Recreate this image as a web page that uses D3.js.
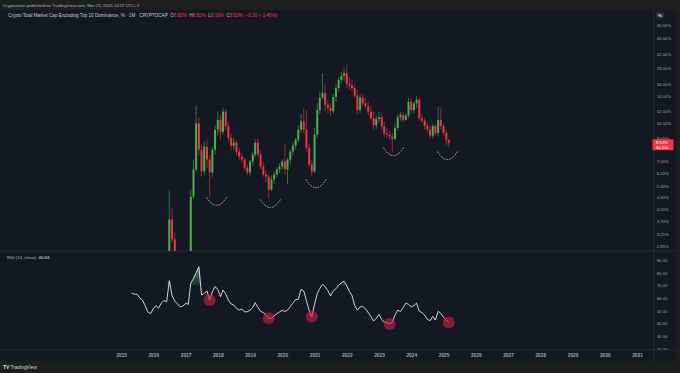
<!DOCTYPE html>
<html><head><meta charset="utf-8">
<script src="https://cdn.jsdelivr.net/npm/d3@7"></script>
<style>
html,body{margin:0;padding:0;background:#1e1e1e;overflow:hidden}
svg{display:block}
text{font-family:"Liberation Sans",Arial,sans-serif;white-space:pre}
</style>
</head><body>
<svg id="c" width="680" height="373"></svg>
<script>
// ---------- DATA (monthly candles, % dominance) ----------
const months = [
"2016-01","2016-02","2016-03","2016-04","2016-05","2016-06","2016-07","2016-08","2016-09","2016-10","2016-11","2016-12",
"2017-01","2017-02","2017-03","2017-04","2017-05","2017-06","2017-07","2017-08","2017-09","2017-10","2017-11","2017-12",
"2018-01","2018-02","2018-03","2018-04","2018-05","2018-06","2018-07","2018-08","2018-09","2018-10","2018-11","2018-12",
"2019-01","2019-02","2019-03","2019-04","2019-05","2019-06","2019-07","2019-08","2019-09","2019-10","2019-11","2019-12",
"2020-01","2020-02","2020-03","2020-04","2020-05","2020-06","2020-07","2020-08","2020-09","2020-10","2020-11","2020-12",
"2021-01","2021-02","2021-03","2021-04","2021-05","2021-06","2021-07","2021-08","2021-09","2021-10","2021-11","2021-12",
"2022-01","2022-02","2022-03","2022-04","2022-05","2022-06","2022-07","2022-08","2022-09","2022-10","2022-11","2022-12",
"2023-01","2023-02","2023-03","2023-04","2023-05","2023-06","2023-07","2023-08","2023-09","2023-10","2023-11","2023-12",
"2024-01","2024-02","2024-03","2024-04","2024-05","2024-06","2024-07","2024-08","2024-09","2024-10","2024-11","2024-12",
"2025-01","2025-02","2025-03"];
const openVals = [
2.30,2.20,2.30,2.50,2.40,2.30,2.55,3.78,3.06,2.60,2.30,2.20,
2.15,2.35,2.60,4.82,6.43,10.50,7.94,6.30,8.20,7.15,6.23,7.94,
9.82,10.90,9.60,11.90,10.20,9.00,8.29,8.56,7.78,7.38,7.15,6.57,
6.23,7.00,7.54,8.56,7.54,6.64,6.10,5.95,5.20,5.78,6.10,6.43,
6.64,7.00,6.43,7.15,7.78,8.29,8.83,9.82,10.70,9.82,8.11,6.78,
6.30,9.32,12.10,13.80,14.50,12.80,12.40,12.00,13.90,15.30,16.70,17.40,
17.90,16.00,15.70,15.30,14.10,12.10,13.80,13.00,12.60,11.90,11.10,10.30,
11.00,11.20,10.20,9.42,9.32,9.13,8.92,10.00,11.20,11.50,10.90,11.40,
13.20,12.10,13.00,13.50,11.10,10.80,10.20,9.82,9.22,10.20,9.50,10.90,
10.20,9.50,8.82];
const highVals = [
2.50,2.40,2.70,2.70,2.60,2.70,5.15,4.28,3.29,2.70,2.45,2.40,
2.45,2.70,5.20,7.15,12.70,11.20,8.38,8.65,8.83,7.46,8.20,10.30,
11.90,11.50,12.40,12.20,10.70,9.42,9.00,8.74,8.11,7.62,7.30,6.78,
7.15,7.78,8.83,8.92,7.86,6.92,6.37,6.10,6.04,6.30,6.57,6.85,
7.15,8.38,7.30,7.94,8.56,9.00,10.30,11.60,12.40,12.10,8.47,7.15,
10.00,13.00,14.70,17.90,15.90,13.50,13.00,14.40,15.90,17.20,18.20,19.00,
19.60,17.20,16.70,16.00,15.00,14.30,14.40,13.80,13.30,12.60,11.90,11.40,
11.90,11.70,10.70,10.00,9.70,9.50,10.50,11.60,11.90,11.90,11.70,13.80,
13.70,13.20,14.10,13.80,11.60,11.10,10.60,10.30,10.50,10.40,12.50,12.40,
10.50,9.82,8.82];
const lowVals = [
2.10,2.10,2.20,2.30,2.20,2.20,2.45,2.96,2.50,2.20,2.10,2.00,
2.05,2.25,2.50,4.72,6.30,7.46,5.95,6.10,6.57,4.82,5.95,7.54,
9.22,8.83,9.32,9.82,8.65,7.94,7.94,7.46,7.07,6.92,6.37,6.04,
6.04,6.71,7.30,7.30,6.43,5.95,5.60,4.72,5.10,5.55,5.95,6.17,
6.43,6.10,5.49,6.78,7.46,7.94,8.56,9.50,9.42,7.78,6.57,5.98,
6.17,9.00,11.60,13.50,11.90,11.60,11.40,11.70,13.20,14.70,16.00,16.40,
15.30,15.00,14.70,13.80,11.50,11.70,12.50,12.30,11.50,10.80,9.82,9.90,
10.60,9.82,9.13,9.00,8.83,7.78,8.74,9.70,10.80,10.60,10.80,11.10,
11.70,11.70,12.40,10.80,10.50,9.82,9.50,8.92,9.00,9.22,9.22,9.82,
9.22,8.30,8.16];
const closeVals = [
2.20,2.30,2.50,2.40,2.30,2.55,3.78,3.06,2.60,2.30,2.20,2.15,
2.35,2.60,4.82,6.43,10.50,7.94,6.30,8.20,7.15,6.23,7.94,9.82,
10.90,9.60,11.90,10.20,9.00,8.29,8.56,7.78,7.38,7.15,6.57,6.23,
7.00,7.54,8.56,7.54,6.64,6.10,5.95,5.20,5.78,6.10,6.43,6.64,
7.00,6.43,7.15,7.78,8.29,8.83,9.82,10.70,9.82,8.11,6.78,6.30,
9.32,12.10,13.80,14.50,12.80,12.40,12.00,13.90,15.30,16.70,17.40,17.90,
16.00,15.70,15.30,14.10,12.10,13.80,13.00,12.60,11.90,11.10,10.30,11.00,
11.20,10.20,9.42,9.32,9.13,8.92,10.00,11.20,11.50,10.90,11.40,13.20,
12.10,13.00,13.50,11.10,10.80,10.20,9.82,9.22,10.20,9.50,10.90,10.20,
9.50,8.83,8.53];

// RSI(14, close)
const rsiMonths = [
"2015-05","2015-06","2015-07","2015-08","2015-09","2015-10","2015-11","2015-12",
"2016-01","2016-02","2016-03","2016-04","2016-05","2016-06","2016-07","2016-08","2016-09","2016-10","2016-11","2016-12",
"2017-01","2017-02","2017-03","2017-04","2017-05","2017-06","2017-07","2017-08","2017-09","2017-10","2017-11","2017-12",
"2018-01","2018-02","2018-03","2018-04","2018-05","2018-06","2018-07","2018-08","2018-09","2018-10","2018-11","2018-12",
"2019-01","2019-02","2019-03","2019-04","2019-05","2019-06","2019-07","2019-08","2019-09","2019-10","2019-11","2019-12",
"2020-01","2020-02","2020-03","2020-04","2020-05","2020-06","2020-07","2020-08","2020-09","2020-10","2020-11","2020-12",
"2021-01","2021-02","2021-03","2021-04","2021-05","2021-06","2021-07","2021-08","2021-09","2021-10","2021-11","2021-12",
"2022-01","2022-02","2022-03","2022-04","2022-05","2022-06","2022-07","2022-08","2022-09","2022-10","2022-11","2022-12",
"2023-01","2023-02","2023-03","2023-04","2023-05","2023-06","2023-07","2023-08","2023-09","2023-10","2023-11","2023-12",
"2024-01","2024-02","2024-03","2024-04","2024-05","2024-06","2024-07","2024-08","2024-09","2024-10","2024-11","2024-12",
"2025-01","2025-02","2025-03"];
const rsiVals = [
63.7,63.0,63.0,60.0,58.4,54.0,49.0,47.5,
51.5,54.0,52.0,56.0,58.0,57.0,73.7,62.0,57.6,55.5,53.0,53.5,
55.8,55.0,71.6,75.5,80.0,84.7,62.4,63.7,65.5,58.4,65.0,69.0,
66.8,61.0,66.3,63.2,58.4,55.3,54.5,51.8,50.5,51.3,49.0,49.2,
50.5,52.5,56.3,52.5,49.5,48.6,46.5,44.0,44.0,46.0,47.6,49.0,
50.2,49.4,50.4,53.2,56.0,58.8,59.0,66.8,65.5,58.0,50.0,45.3,
55.0,63.5,67.5,70.8,69.0,65.8,61.6,65.5,67.3,70.0,72.0,73.2,
69.5,65.0,62.0,54.0,50.5,53.0,53.3,51.5,48.5,45.5,41.8,44.0,
47.1,43.0,41.0,40.5,39.5,41.0,46.6,50.5,49.3,52.5,56.0,55.0,
53.0,54.0,56.0,49.6,48.5,46.5,43.3,42.1,45.5,42.6,49.5,47.9,
44.8,42.6,40.63];

// highlighted RSI lows (red circles)
const rsiHighlights = ["2017-10","2019-08","2020-12","2023-05","2025-03"];
// dashed "smile" annotations under price lows: anchor date + price level
const smileDates  = ["2017-12-18","2019-08-20","2021-01-18","2023-06-14","2025-02-15"];
const smileLevels = [4.78, 4.67, 5.78, 8.11, 7.78];

// axis tick labels
const priceTicks = [30,26,22,19,16,14,12,10.5,9,7,6.2,5.4,4.8,4.2,3.7,3.25,2.85];
const rsiTicks = [90,80,70,60,50,40,30,20];
const yearTicks = ["2015","2016","2017","2018","2019","2020","2021","2022","2023","2024","2025","2026","2027","2028","2029","2030","2031"];

// ---------- DRAW ----------
const W = 680, H = 373;
const BG = "#141823", FRAME = "#1e1e1e", SEP = "#2a2e39";
const GREEN = "#4caf50", RED = "#f23645", AXT = "#a3a6af";
const chartT = 10, chartB = 361, chartR = 676, axisX = 654, paneSep = 251, timeTop = 350;

const svg = d3.select("#c");
svg.append("rect").attr("width", W).attr("height", H).attr("fill", FRAME);
svg.append("rect").attr("x", 0).attr("y", chartT).attr("width", chartR).attr("height", chartB - chartT).attr("fill", BG);

const parseM = d3.utcParse("%Y-%m");
const parseD = d3.utcParse("%Y-%m-%d");
const x = d3.scaleUtc().domain([parseM("2015-01"), parseM("2031-01")]).range([121, 637]);
const yP = d3.scaleLog().domain([2.85, 30]).range([246, 24.7]);
const yR = d3.scaleLinear().domain([20, 90]).range([348.7, 260]);

const defs = svg.append("defs");
defs.append("clipPath").attr("id", "clipMain").append("rect").attr("x", 0).attr("y", chartT).attr("width", axisX).attr("height", paneSep - chartT);
defs.append("clipPath").attr("id", "clipRsi").append("rect").attr("x", 0).attr("y", paneSep).attr("width", axisX).attr("height", timeTop - paneSep);
defs.append("clipPath").attr("id", "clipRsiAxis").append("rect").attr("x", axisX).attr("y", paneSep).attr("width", chartR - axisX).attr("height", timeTop - paneSep);

// separators
svg.append("line").attr("x1", 0).attr("x2", chartR).attr("y1", paneSep).attr("y2", paneSep).attr("stroke", SEP).attr("stroke-width", 0.8);
svg.append("line").attr("x1", 0).attr("x2", chartR).attr("y1", timeTop).attr("y2", timeTop).attr("stroke", SEP).attr("stroke-width", 0.8);
svg.append("line").attr("x1", axisX).attr("x2", axisX).attr("y1", chartT).attr("y2", chartB).attr("stroke", SEP).attr("stroke-width", 0.8);

// candles
const candles = months.map((m, i) => ({d: parseM(m), o: openVals[i], h: highVals[i], l: lowVals[i], c: closeVals[i]}));
const step = x(parseM("2016-02")) - x(parseM("2016-01"));
const bw = step * 0.72;
const gMain = svg.append("g").attr("clip-path", "url(#clipMain)");
gMain.selectAll("line.wick").data(candles).join("line").attr("class", "wick")
  .attr("x1", d => x(d.d)).attr("x2", d => x(d.d))
  .attr("y1", d => yP(d.h)).attr("y2", d => yP(d.l))
  .attr("stroke", d => d.c >= d.o ? GREEN : RED).attr("stroke-width", 0.6);
gMain.selectAll("rect.body").data(candles).join("rect").attr("class", "body")
  .attr("x", d => x(d.d) - bw / 2).attr("width", bw)
  .attr("y", d => yP(Math.max(d.o, d.c)))
  .attr("height", d => Math.max(0.7, yP(Math.min(d.o, d.c)) - yP(Math.max(d.o, d.c))))
  .attr("fill", d => d.c >= d.o ? GREEN : RED);

// smile annotations
const smiles = smileDates.map((s, i) => ({d: parseD(s), v: smileLevels[i]}));
gMain.selectAll("path.smile").data(smiles).join("path").attr("class", "smile")
  .attr("d", d => {
    const cx = x(d.d), cy = yP(d.v), hw = 10, dp = 8;
    return `M${cx - hw},${cy} Q${cx},${cy + 2 * dp} ${cx + hw},${cy}`;
  })
  .attr("fill", "none").attr("stroke", "#e8e8e8").attr("stroke-width", 0.8).attr("stroke-dasharray", "1.4,1.1");

// price axis
const pAxis = svg.append("g").attr("transform", `translate(${axisX},0)`)
  .call(d3.axisRight(yP).tickValues(priceTicks).tickFormat(d => d.toFixed(2) + "%").tickSize(0).tickPadding(2.7));
pAxis.select(".domain").remove();
pAxis.selectAll("text").attr("fill", AXT).attr("font-size", 4.3);

// % button
svg.append("rect").attr("x", 656).attr("y", 12.3).attr("width", 8).attr("height", 6).attr("rx", 0.8).attr("fill", "#2a2e39");
svg.append("text").attr("x", 660).attr("y", 16.9).attr("text-anchor", "middle").attr("font-size", 4.3).attr("fill", "#e0e3eb").attr("font-weight", "bold").text("%");

// last price label
const lastC = closeVals[closeVals.length - 1];
svg.append("rect").attr("x", axisX - 1.5).attr("y", yP(lastC) - 3.8).attr("width", 21).attr("height", 11).attr("rx", 0.8).attr("fill", RED);
svg.append("text").attr("x", axisX + 2).attr("y", yP(lastC) + 1.5).attr("font-size", 4.3).attr("fill", "#fff").text(lastC.toFixed(2) + "%");
svg.append("text").attr("x", axisX + 2).attr("y", yP(lastC) + 6.3).attr("font-size", 4.1).attr("fill", "#fff").text("8d 10h");

// RSI pane
const rsi = rsiMonths.map((m, i) => ({d: parseM(m), v: rsiVals[i]}));
const gR = svg.append("g").attr("clip-path", "url(#clipRsi)");
const grad = defs.append("linearGradient").attr("id", "obGrad").attr("x1", 0).attr("x2", 0).attr("y1", 0).attr("y2", 1);
grad.append("stop").attr("offset", "0%").attr("stop-color", "#4caf50").attr("stop-opacity", 0.75);
grad.append("stop").attr("offset", "100%").attr("stop-color", "#4caf50").attr("stop-opacity", 0.15);
gR.append("path").datum(rsi)
  .attr("d", d3.area().x(d => x(d.d)).y0(yR(70)).y1(d => yR(Math.max(70, d.v))))
  .attr("fill", "url(#obGrad)");
gR.append("path").datum(rsi)
  .attr("d", d3.line().x(d => x(d.d)).y(d => yR(d.v)))
  .attr("fill", "none").attr("stroke", "#e8e8ec").attr("stroke-width", 0.9).attr("stroke-linejoin", "round");
const hl = rsi.filter(d => rsiHighlights.includes(d3.utcFormat("%Y-%m")(d.d)));
gR.selectAll("circle.hl").data(hl).join("circle").attr("class", "hl")
  .attr("cx", d => x(d.d)).attr("cy", d => yR(d.v)).attr("r", 6)
  .attr("fill", "#c8203f").attr("fill-opacity", 0.62);

const rAxisWrap = svg.append("g").attr("clip-path", "url(#clipRsiAxis)");
const rAxis = rAxisWrap.append("g").attr("transform", `translate(${axisX},0)`)
  .call(d3.axisRight(yR).tickValues(rsiTicks).tickFormat(d => d.toFixed(2)).tickSize(0).tickPadding(2.7));
rAxis.select(".domain").remove();
rAxis.selectAll("text").attr("fill", AXT).attr("font-size", 4.3);

// time axis
const tAxis = svg.append("g").attr("transform", `translate(0,${timeTop})`)
  .call(d3.axisBottom(x).tickValues(yearTicks.map(y => parseM(y + "-01"))).tickFormat(d3.utcFormat("%Y")).tickSize(0).tickPadding(3.4));
tAxis.select(".domain").remove();
tAxis.selectAll("text").attr("fill", AXT).attr("font-size", 4.8).attr("font-weight", "bold");

// header texts
svg.append("text").attr("x", 3).attr("y", 6.8).attr("font-size", 4.3).attr("fill", "#b2b5be")
  .text("Cryptorover published on TradingView.com, Mar 23, 2025 14:57 UTC+1");
const t2 = svg.append("text").attr("x", 8).attr("y", 16.8).attr("font-size", 4.6).attr("fill", "#c9cbd2");
t2.append("tspan").text("Crypto Total Market Cap Excluding Top 10 Dominance, % · 1M · CRYPTOCAP  ");
[["O", "8.82%"], ["H", "8.82%"], ["L", "8.16%"], ["C", "8.53%"]].forEach(([k, v]) => {
  t2.append("tspan").attr("fill", "#c9cbd2").text(k);
  t2.append("tspan").attr("fill", RED).text(v + "  ");
});
t2.append("tspan").attr("fill", RED).text("−0.30 (−3.45%)");

const t3 = svg.append("text").attr("x", 7).attr("y", 258.8).attr("font-size", 4.4).attr("fill", "#b2b5be");
t3.append("tspan").text("RSI (14, close)  ");
t3.append("tspan").attr("fill", "#e8e8ec").text(rsiVals[rsiVals.length - 1].toFixed(2));

// footer logo
svg.append("text").attr("x", 3).attr("y", 368.6).attr("font-size", 5).attr("font-weight", "bold").attr("fill", "#d8d8d8").text("TV");
svg.append("text").attr("x", 10.5).attr("y", 368.6).attr("font-size", 4.8).attr("fill", "#d8d8d8").text("TradingView");
</script>
</body></html>
